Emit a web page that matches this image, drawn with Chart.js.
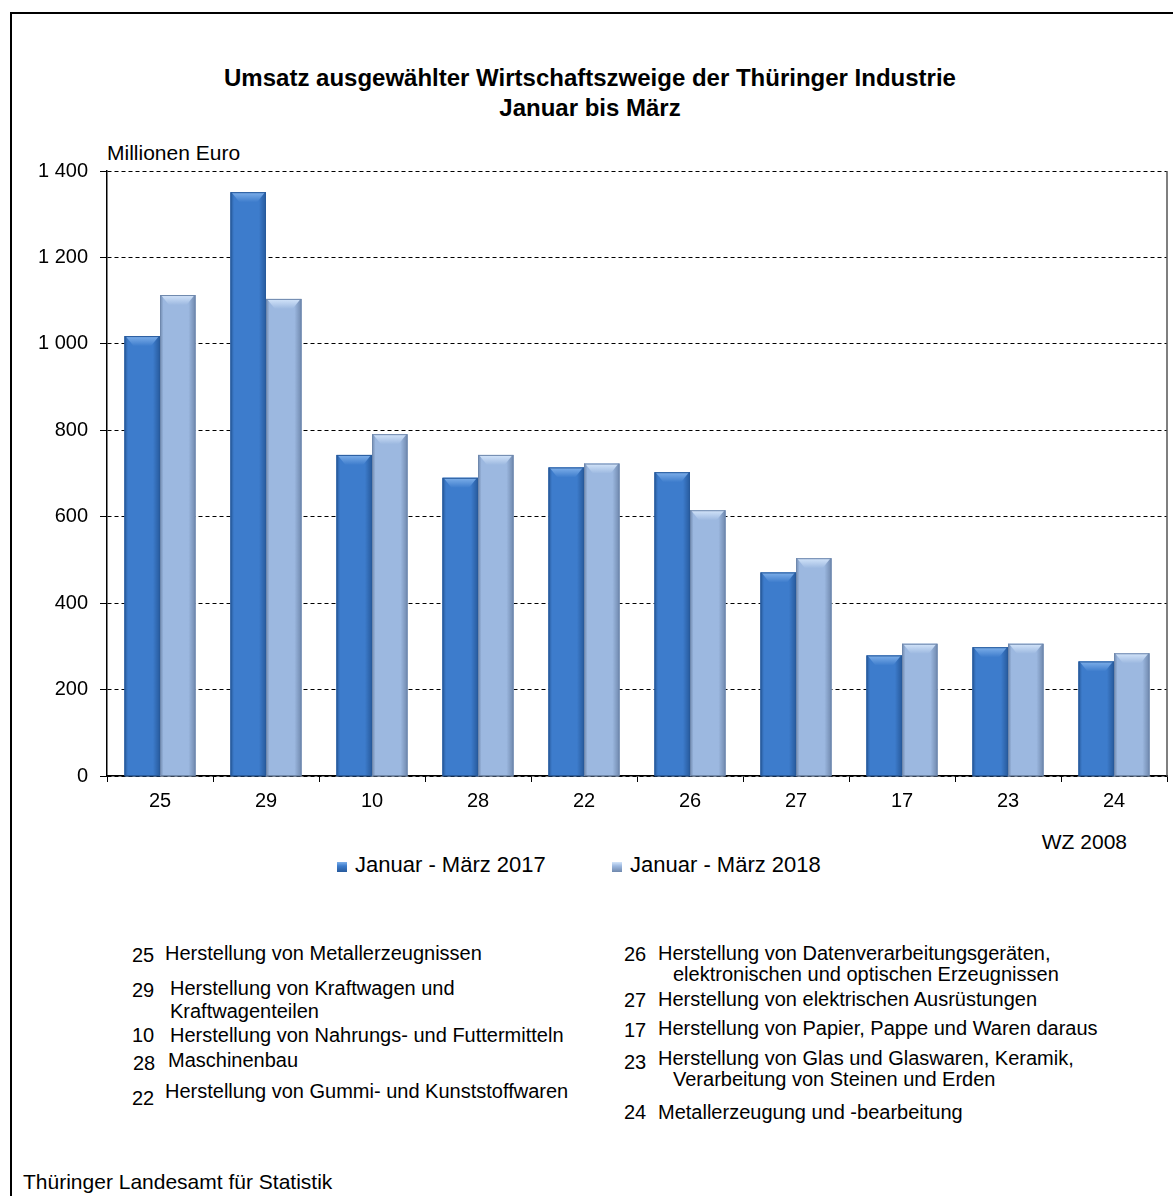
<!DOCTYPE html>
<html>
<head>
<meta charset="utf-8">
<script src="https://cdn.jsdelivr.net/npm/chart.js@4.4.1/dist/chart.umd.min.js"></script>
<style>
  body { margin: 0; width: 1173px; height: 1196px; overflow: hidden; background: #fff;
         font-family: "Liberation Sans", Arial, sans-serif; color: #000; position: relative; }
  .abs { position: absolute; white-space: nowrap; }
  #frame { position: absolute; left: 10px; top: 12px; width: 1300px; height: 1300px; border: 2px solid #000; }
  #title { left: 0; width: 1180px; top: 63px; text-align: center; font-weight: bold; font-size: 24px; line-height: 30px; }
  .sq { display: inline-block; width: 10px; height: 10px; }
  .fn { font-size: 20px; line-height: 21px; }
</style>
</head>
<body>
<div id="frame"></div>
<div id="title" class="abs">Umsatz ausgewählter Wirtschaftszweige der Thüringer Industrie<br>Januar bis März</div>
<div class="abs" style="left:107px; top:141px; font-size:21px;">Millionen Euro</div>
<div class="abs" style="left:0; top:147px; width:1173px; height:683px;"><canvas id="mycanvas"></canvas></div>
<div class="abs" style="left:1000px; width:127px; text-align:right; top:830px; font-size:21px;">WZ 2008</div>
<div id="legend"></div>
<div id="notes"></div>
<div class="abs" style="left:23px; top:1170px; font-size:21px;">Thüringer Landesamt für Statistik</div>

<script>
var codes = ["25", "29", "10", "28", "22", "26", "27", "17", "23", "24"];
var seriesNames = ["Januar - März 2017", "Januar - März 2018"];
var umsatz2017 = [1018, 1351, 743, 690, 714, 703, 471, 279, 298, 265];
var umsatz2018 = [1113, 1104, 791, 743, 723, 615, 504, 306, 306, 284];
var yTicks = [0, 200, 400, 600, 800, 1000, 1200, 1400];

var notesLeft = [
  ["25", "Herstellung von Metallerzeugnissen"],
  ["29", "Herstellung von Kraftwagen und", "Kraftwagenteilen"],
  ["10", "Herstellung von Nahrungs- und Futtermitteln"],
  ["28", "Maschinenbau"],
  ["22", "Herstellung von Gummi- und  Kunststoffwaren"]
];
var notesRight = [
  ["26", "Herstellung von Datenverarbeitungsgeräten,", "elektronischen und optischen Erzeugnissen"],
  ["27", "Herstellung von elektrischen Ausrüstungen"],
  ["17", "Herstellung von Papier, Pappe und Waren daraus"],
  ["23", "Herstellung von Glas und Glaswaren, Keramik,", "Verarbeitung von Steinen und Erden"],
  ["24", "Metallerzeugung und -bearbeitung"]
];

var colors = [
  { fill: "#3d7ccc", dark: "#275a9c", light: "#7fb0ea" },
  { fill: "#9cb8e0", dark: "#6f88ad", light: "#d4e5fa" }
];

function fmt(v) {
  return String(v).replace(/\B(?=(\d{3})+(?!\d))/g, " ");
}

// shading and bevel on each bar, drawn from the bar elements
var bevel = {
  id: "bevel",
  afterDatasetsDraw: function (chart) {
    var ctx = chart.ctx;
    chart.data.datasets.forEach(function (ds, di) {
      var c = colors[di];
      chart.getDatasetMeta(di).data.forEach(function (el) {
        var p = el.getProps(["x", "y", "base", "width"], true);
        var l = p.x - p.width / 2, r = p.x + p.width / 2;
        var g = ctx.createLinearGradient(l, 0, r, 0);
        g.addColorStop(0, c.dark);
        g.addColorStop(0.1, c.fill);
        g.addColorStop(0.8, c.fill);
        g.addColorStop(1, c.dark);
        ctx.save();
        ctx.fillStyle = g;
        ctx.fillRect(l, p.y, r - l, p.base - p.y);
        var t = ctx.createLinearGradient(0, p.y, 0, p.y + 10);
        t.addColorStop(0, c.light);
        t.addColorStop(1, c.fill);
        ctx.fillStyle = t;
        ctx.beginPath();
        ctx.moveTo(l + 1, p.y);
        ctx.lineTo(r - 1, p.y);
        ctx.lineTo(r - 9, p.y + 10);
        ctx.lineTo(l + 9, p.y + 10);
        ctx.closePath();
        ctx.fill();
        ctx.strokeStyle = c.dark;
        ctx.lineWidth = 1;
        ctx.strokeRect(l + 0.5, p.y + 0.5, r - l - 1, p.base - p.y);
        ctx.restore();
      });
    });
    var a = chart.chartArea;
    ctx.save();
    ctx.strokeStyle = "#555";
    ctx.lineWidth = 1.5;
    ctx.beginPath();
    ctx.moveTo(a.right, a.top);
    ctx.lineTo(a.right, a.bottom);
    ctx.stroke();
    ctx.restore();
  }
};

var chartdata = {
  labels: codes,
  datasets: [
    { label: seriesNames[0], data: umsatz2017, backgroundColor: colors[0].fill,
      categoryPercentage: 0.67, barPercentage: 1.0 },
    { label: seriesNames[1], data: umsatz2018, backgroundColor: colors[1].fill,
      categoryPercentage: 0.67, barPercentage: 1.0 }
  ]
};

Chart.defaults.font.family = "'Liberation Sans', Arial, sans-serif";
Chart.defaults.color = "#000";

new Chart(document.getElementById("mycanvas"), {
  type: "bar",
  data: chartdata,
  plugins: [bevel],
  options: {
    responsive: true,
    maintainAspectRatio: false,
    animation: false,
    layout: { padding: { top: 18, right: 6, bottom: 14, left: 0 } },
    plugins: { legend: { display: false }, tooltip: { enabled: false } },
    scales: {
      x: {
        afterFit: function (s) { s.height = 40; },
        grid: { drawOnChartArea: false, tickLength: 6, color: "#000", offset: true },
        border: { display: true, color: "#000", width: 1.5 },
        ticks: { font: { size: 20 }, padding: 7, color: "#000" }
      },
      y: {
        min: 0, max: 1400,
        afterFit: function (s) { s.width = 107; },
        afterBuildTicks: function (s) { s.ticks = yTicks.map(function (v) { return { value: v }; }); },
        grid: { color: "#000", lineWidth: 1, tickLength: 7, tickColor: "#000", tickBorderDash: [] },
        border: { display: true, color: "#000", width: 1.5, dash: [4, 3] },
        ticks: { font: { size: 20 }, padding: 12, color: "#000", callback: function (v) { return fmt(v); } }
      }
    }
  }
});

// legend
var legendPos = [337, 612];
var leg = "";
seriesNames.forEach(function (name, i) {
  leg += '<div class="abs" style="left:' + legendPos[i] + 'px; top:852px; font-size:22px;">' +
    '<span class="sq" style="background:linear-gradient(' + colors[i].light + ',' + colors[i].fill + ' 40%,' + colors[i].dark + '); margin-right:8px;"></span>' +
    name + '</div>';
});
document.getElementById("legend").innerHTML = leg;

// footnotes: [numberX, numberTop, textX, textTop, lineHeight, indent]
var leftPos = [
  [132, 945, 165, 943, 21, 0],
  [132, 980, 170, 977, 23, 0],
  [132, 1025, 170, 1025, 21, 0],
  [133, 1053, 168, 1050, 21, 0],
  [132, 1088, 165, 1081, 21, 0]
];
var rightPos = [
  [624, 944, 658, 943, 21, 15],
  [624, 990, 658, 989, 21, 0],
  [624, 1020, 658, 1018, 21, 0],
  [624, 1052, 658, 1048, 21, 15],
  [624, 1102, 658, 1102, 21, 0]
];
var html = "";
function addNotes(list, pos) {
  list.forEach(function (n, i) {
    var q = pos[i];
    html += '<div class="abs fn" style="left:' + q[0] + 'px; top:' + q[1] + 'px;">' + n[0] + '</div>';
    html += '<div class="abs fn" style="left:' + q[2] + 'px; top:' + q[3] + 'px; line-height:' + q[4] + 'px;">' + n[1] +
      (n[2] ? '<br><span style="padding-left:' + q[5] + 'px">' + n[2] + '</span>' : '') + '</div>';
  });
}
addNotes(notesLeft, leftPos);
addNotes(notesRight, rightPos);
document.getElementById("notes").innerHTML = html;
</script>
</body>
</html>
